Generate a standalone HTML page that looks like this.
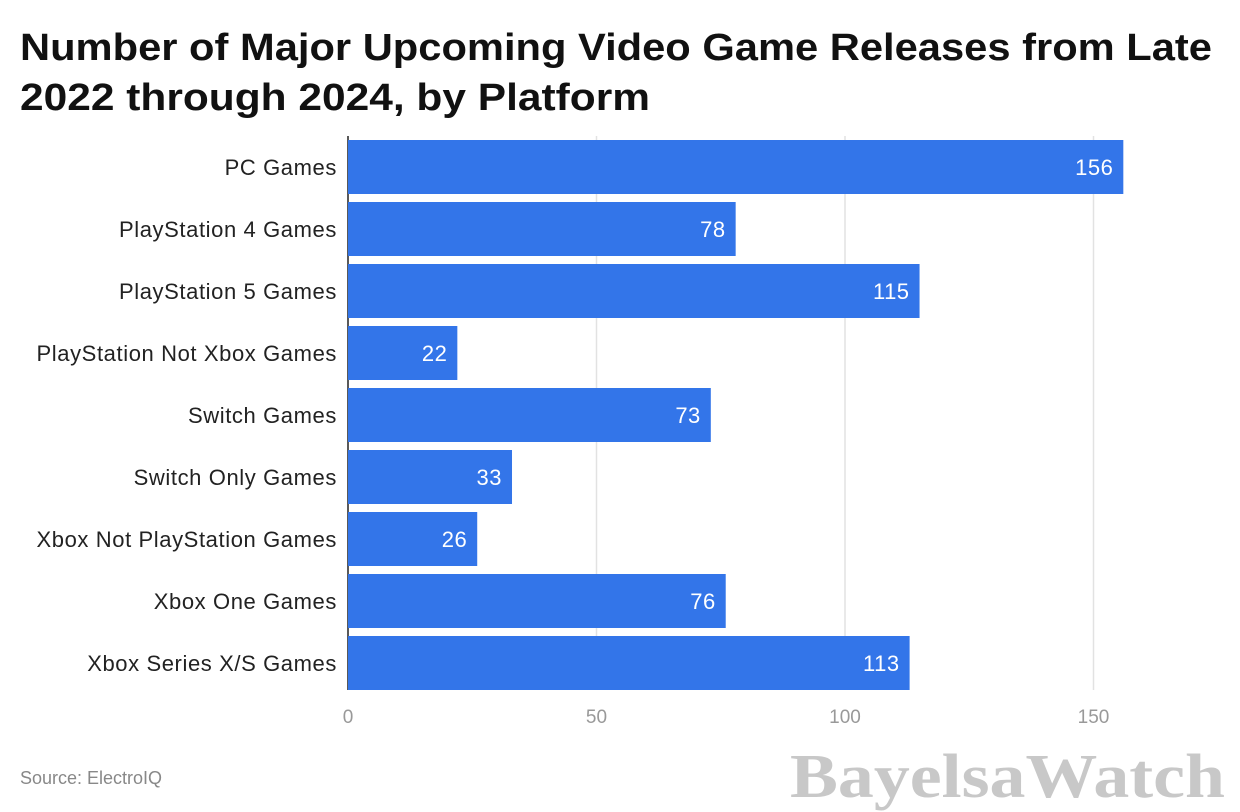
<!DOCTYPE html>
<html><head><meta charset="utf-8"><style>
body{margin:0;background:#fff;width:1240px;height:812px;overflow:hidden;font-family:"Liberation Sans",sans-serif}
</style></head><body>
<svg width="1240" height="812" style="position:absolute;left:0;top:0">
<text x="20" y="60" font-size="38" font-weight="bold" fill="#111" textLength="1192" lengthAdjust="spacingAndGlyphs">Number of Major Upcoming Video Game Releases from Late</text>
<text x="20" y="110" font-size="38" font-weight="bold" fill="#111" textLength="630" lengthAdjust="spacingAndGlyphs">2022 through 2024, by Platform</text>
<g id="grid"></g><g id="bars"></g><g id="labels"></g>
<text x="20" y="784" font-size="18" fill="#888">Source: ElectroIQ</text>
<text x="1225" y="797" text-anchor="end" font-size="62" font-family="Liberation Serif,serif" font-weight="bold" fill="#c8c8c8" textLength="435" lengthAdjust="spacingAndGlyphs">BayelsaWatch</text>
</svg>
<script>
const categories=["PC Games","PlayStation 4 Games","PlayStation 5 Games","PlayStation Not Xbox Games","Switch Games","Switch Only Games","Xbox Not PlayStation Games","Xbox One Games","Xbox Series X/S Games"];
const values=[156,78,115,22,73,33,26,76,113];
const ticks=[0,50,100,150];
const ns="http://www.w3.org/2000/svg";
const x0=348,scale=4.97,top0=136,band=62,barH=54;
const xs=v=>x0+v*scale, yb=i=>top0+i*band;
function mk(t,a,p){const e=document.createElementNS(ns,t);for(const k in a)e.setAttribute(k,a[k]);document.getElementById(p).appendChild(e);return e;}
ticks.forEach(t=>{
 if(t>0){const l=mk('line',{x1:xs(t),x2:xs(t),y1:top0,y2:690,stroke:'#e2e2e2','stroke-width':1.5},'grid');
 
 }
 const tx=mk('text',{x:xs(t),y:723,'text-anchor':'middle','font-size':19,fill:'#999'},'labels');tx.textContent=t;
 
 
});
categories.forEach((c,i)=>{
 const r=mk('rect',{x:x0,y:yb(i)+4,width:values[i]*scale,height:barH,fill:'#3375e9'},'bars');
 
 
 const v=mk('text',{x:xs(values[i])-10,y:yb(i)+4+barH/2+8,'text-anchor':'end','font-size':22,'letter-spacing':0.5,fill:'#fff'},'labels');v.textContent=values[i];
 
 
 const l=mk('text',{x:337,y:yb(i)+4+barH/2+8,'text-anchor':'end','font-size':22,'letter-spacing':0.6,fill:'#222'},'labels');l.textContent=c;
 
 
});
const ax=mk('line',{x1:x0,x2:x0,y1:top0,y2:690,stroke:'#222','stroke-width':1.5},'grid');


</script>
</body></html>
